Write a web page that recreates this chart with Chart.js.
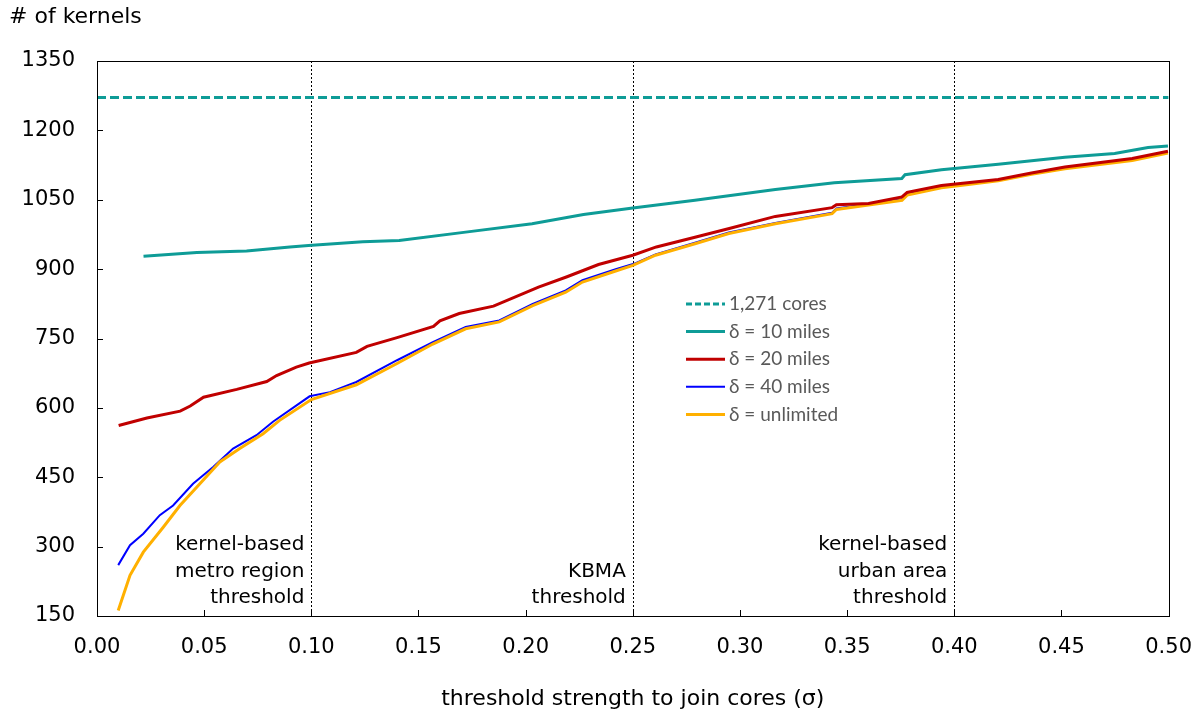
<!DOCTYPE html>
<html lang="en">
<head>
    <meta charset="UTF-8">
    <title>Kernels vs threshold strength</title>
    <style>
        body {
            margin: 0;
            background: #fff;
        }
        #wrap {
            width: 1203px;
            height: 717px;
            position: relative;
        }
    </style>
    <script src="https://cdn.jsdelivr.net/npm/chart.js"></script>
</head>
<body>
    <div id="wrap"><canvas id="kernelChart"></canvas></div>
    <script>
        // values
        const totalCores = 1271;

        const sigma10 = [0.0217, 0.0466, 0.0698, 0.09, 0.0987, 0.124, 0.141, 0.172, 0.203, 0.227, 0.25, 0.279, 0.3165, 0.344, 0.3755, 0.377, 0.394, 0.4205, 0.4516, 0.4748, 0.4904, 0.4997];
        const kernels10 = [928, 936, 939, 948, 951, 959, 962, 980, 998, 1018, 1032, 1049, 1072, 1087, 1096, 1104, 1115, 1127, 1142, 1150, 1163, 1166];

        const sigma20 = [0.0101, 0.0233, 0.0388, 0.0435, 0.0497, 0.0652, 0.0792, 0.0838, 0.093, 0.099, 0.121, 0.126, 0.14, 0.157, 0.16, 0.169, 0.185, 0.206, 0.219, 0.234, 0.25, 0.261, 0.279, 0.295, 0.3165, 0.343, 0.345, 0.36, 0.3756, 0.378, 0.394, 0.4205, 0.436, 0.4516, 0.483, 0.4997];
        const kernels20 = [562, 578, 593, 604, 623, 640, 657, 670, 688, 697, 720, 733, 752, 776, 788, 804, 820, 861, 883, 910, 930, 948, 969, 988, 1014, 1033, 1039, 1042, 1056, 1066, 1081, 1094, 1108, 1121, 1139, 1155];

        const sigma40 = [0.0099, 0.0154, 0.0216, 0.0293, 0.0355, 0.0448, 0.0542, 0.0635, 0.0744, 0.0821, 0.0992, 0.1087, 0.121, 0.14, 0.1567, 0.172, 0.1877, 0.2033, 0.2187, 0.2265, 0.242, 0.2513, 0.2606, 0.279, 0.2948, 0.3165, 0.343, 0.345, 0.3756, 0.378, 0.394, 0.4065, 0.4205, 0.436, 0.4516, 0.483, 0.4997];
        const kernels40 = [260, 303, 328, 368, 389, 436, 472, 512, 541, 570, 625, 634, 656, 703, 742, 775, 789, 825, 854, 876, 900, 913, 932, 957, 979, 1000, 1022, 1031, 1051, 1062, 1078, 1085, 1093, 1107, 1119, 1137, 1153];

        const sigmaUnl = [0.0099, 0.0154, 0.0216, 0.0309, 0.0387, 0.048, 0.0573, 0.0666, 0.0775, 0.0852, 0.1, 0.121, 0.14, 0.1567, 0.172, 0.1877, 0.2033, 0.2187, 0.2265, 0.242, 0.25, 0.2606, 0.279, 0.2948, 0.3165, 0.343, 0.345, 0.3756, 0.378, 0.394, 0.4065, 0.4205, 0.436, 0.4516, 0.483, 0.4997];
        const kernelsUnl = [162, 238, 288, 342, 389, 436, 483, 512, 544, 573, 618, 650, 696, 738, 771, 786, 821, 850, 872, 896, 908, 930, 955, 977, 998, 1020, 1029, 1049, 1060, 1076, 1083, 1091, 1105, 1117, 1135, 1151];

        const thresholds = [0.10, 0.25, 0.40];
        const thresholdNotes = [
            ['kernel-based', 'metro region', 'threshold'],
            ['KBMA', 'threshold'],
            ['kernel-based', 'urban area', 'threshold']
        ];

        const FONT = '"DejaVu Sans", sans-serif';

        function pts(xs, ys) {
            return xs.map((x, i) => ({ x: x, y: ys[i] }));
        }

        // dotted threshold lines, frame, inward ticks, notes, legend and axis titles
        const decor = {
            id: 'decor',
            beforeDatasetsDraw(chart) {
                const ctx = chart.ctx;
                const a = chart.chartArea;
                const xs = chart.scales.x;
                ctx.save();
                ctx.strokeStyle = '#000';
                ctx.lineWidth = 1;
                ctx.setLineDash([2, 2]);
                thresholds.forEach(t => {
                    const px = Math.round(xs.getPixelForValue(t)) + 0.5;
                    ctx.beginPath();
                    ctx.moveTo(px, a.top);
                    ctx.lineTo(px, a.bottom);
                    ctx.stroke();
                });
                ctx.restore();
            },
            afterDraw(chart) {
                const ctx = chart.ctx;
                const a = chart.chartArea;
                const xs = chart.scales.x;
                const ys = chart.scales.y;
                ctx.save();

                // frame
                ctx.strokeStyle = '#000';
                ctx.lineWidth = 1;
                ctx.strokeRect(Math.round(a.left) + 0.5, Math.round(a.top) + 0.5,
                    Math.round(a.right - a.left), Math.round(a.bottom - a.top));

                // inward tick marks
                ctx.beginPath();
                xs.ticks.forEach(t => {
                    const px = Math.round(xs.getPixelForValue(t.value)) + 0.5;
                    ctx.moveTo(px, a.bottom);
                    ctx.lineTo(px, a.bottom - 6);
                });
                ys.ticks.forEach(t => {
                    const py = Math.round(ys.getPixelForValue(t.value)) + 0.5;
                    ctx.moveTo(a.left, py);
                    ctx.lineTo(a.left + 6, py);
                });
                ctx.stroke();

                // threshold notes
                ctx.fillStyle = '#000';
                ctx.font = '20px ' + FONT;
                ctx.textAlign = 'right';
                ctx.textBaseline = 'middle';
                thresholds.forEach((t, i) => {
                    const px = xs.getPixelForValue(t) - 7;
                    const lines = thresholdNotes[i];
                    lines.forEach((s, j) => {
                        const py = 598 - (lines.length - 1 - j) * 26.7;
                        ctx.fillText(s, px, py);
                    });
                });

                // axis titles
                ctx.font = '22px ' + FONT;
                ctx.textAlign = 'left';
                ctx.fillText('# of kernels', 9, 17);
                ctx.textAlign = 'center';
                ctx.fillText('threshold strength to join cores (\u03c3)', (a.left + a.right) / 2, 699);

                // legend
                ctx.font = '19px Lato, sans-serif';
                ctx.textAlign = 'left';
                chart.data.datasets.forEach((ds, i) => {
                    const py = 304 + i * 27.6;
                    ctx.strokeStyle = ds.borderColor;
                    ctx.lineWidth = ds.borderWidth;
                    ctx.setLineDash(ds.borderDash ? [6, 3] : []);
                    ctx.beginPath();
                    ctx.moveTo(686, py);
                    ctx.lineTo(725, py);
                    ctx.stroke();
                    ctx.fillStyle = '#595959';
                    ctx.fillText(ds.label, 729, py);
                });
                ctx.restore();
            }
        };

        const chart = new Chart(document.getElementById('kernelChart'), {
            type: 'line',
            data: {
                datasets: [
                    {
                        label: '1,271 cores',
                        data: [{ x: 0, y: totalCores }, { x: 0.5, y: totalCores }],
                        borderColor: '#0e9c97',
                        borderWidth: 3,
                        borderDash: [9, 4],
                        order: 5
                    },
                    {
                        label: '\u03b4 = 10 miles',
                        data: pts(sigma10, kernels10),
                        borderColor: '#0e9c97',
                        borderWidth: 3,
                        order: 4
                    },
                    {
                        label: '\u03b4 = 20 miles',
                        data: pts(sigma20, kernels20),
                        borderColor: '#c00000',
                        borderWidth: 3,
                        order: 1
                    },
                    {
                        label: '\u03b4 = 40 miles',
                        data: pts(sigma40, kernels40),
                        borderColor: '#0000ff',
                        borderWidth: 2,
                        order: 3
                    },
                    {
                        label: '\u03b4 = unlimited',
                        data: pts(sigmaUnl, kernelsUnl),
                        borderColor: '#ffb000',
                        borderWidth: 3,
                        order: 2
                    }
                ]
            },
            options: {
                responsive: true,
                maintainAspectRatio: false,
                animation: false,
                layout: {
                    padding: { top: 61, right: 28, left: 0, bottom: 0 }
                },
                elements: {
                    point: { radius: 0 },
                    line: { tension: 0, borderCapStyle: 'butt' }
                },
                plugins: {
                    legend: { display: false },
                    tooltip: { enabled: false }
                },
                scales: {
                    x: {
                        type: 'linear',
                        min: 0,
                        max: 0.5,
                        grid: { display: false },
                        border: { display: false },
                        ticks: {
                            stepSize: 0.05,
                            color: '#000',
                            padding: 11,
                            font: { family: FONT, size: 21 },
                            maxRotation: 0,
                            callback: v => v.toFixed(2)
                        },
                        afterFit(scale) {
                            scale.height = 101;
                        }
                    },
                    y: {
                        min: 150,
                        max: 1350,
                        grid: { display: false },
                        border: { display: false },
                        ticks: {
                            stepSize: 150,
                            color: '#000',
                            padding: 14,
                            font: { family: FONT, size: 21 },
                            callback: v => String(v)
                        },
                        afterFit(scale) {
                            scale.width = 97;
                        }
                    }
                }
            },
            plugins: [decor]
        });
    </script>
</body>
</html>
